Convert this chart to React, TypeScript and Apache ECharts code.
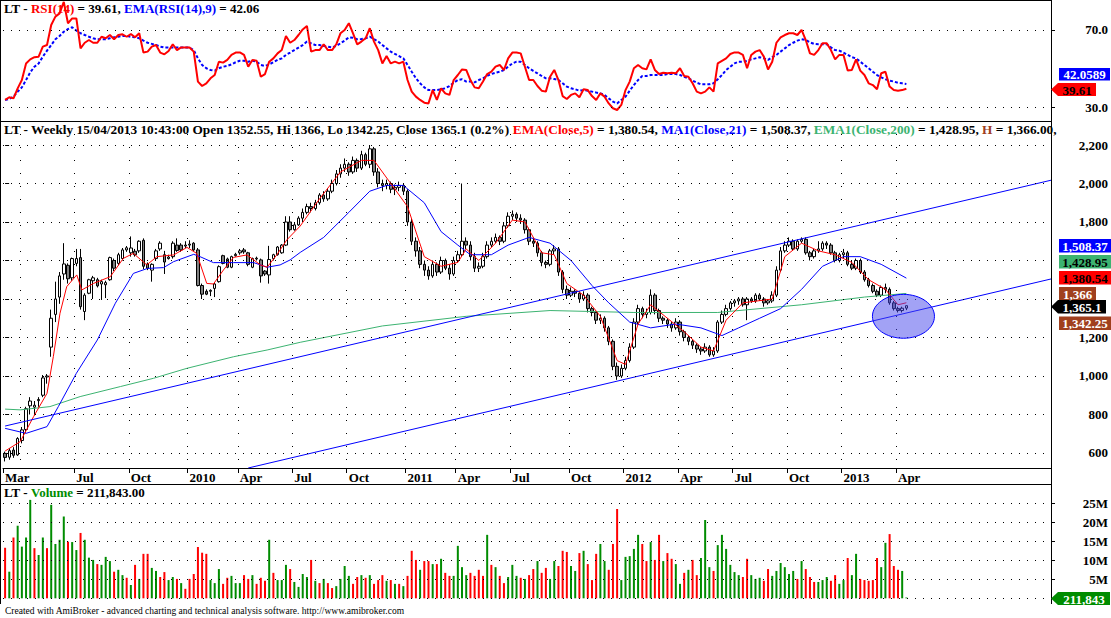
import React, { useEffect, useRef } from "react";
import * as echarts from "echarts";

const SLOTS = 250;
const FONT = '"Liberation Serif", "Times New Roman", serif';

// weekly candles [open, close, low, high]
const ohlc: number[][] = [
  [598,577,556,607],[578,612,565,625],[615,588,575,630],[590,675,585,682],[665,720,650,735],
  [722,830,705,840],[845,870,800,890],[838,848,795,870],[872,878,840,890],[900,990,890,1005],
  [995,1000,960,1010],[1150,1300,1100,1345],[1320,1400,1280,1490],[1410,1520,1375,1540],[1530,1582,1500,1690],
  [1575,1505,1480,1585],[1510,1610,1495,1615],[1585,1610,1570,1660],[1615,1360,1345,1660],[1335,1420,1290,1430],
  [1430,1500,1425,1505],[1495,1510,1400,1520],[1500,1468,1460,1510],[1478,1490,1395,1500],[1474,1485,1405,1495],
  [1500,1615,1495,1620],[1600,1560,1545,1610],[1585,1630,1575,1640],[1610,1655,1600,1665],[1655,1666,1645,1675],
  [1640,1665,1620,1725],[1648,1630,1620,1660],[1650,1700,1640,1705],[1705,1570,1555,1715],[1582,1560,1550,1590],
  [1550,1580,1490,1585],[1610,1650,1600,1660],[1660,1690,1650,1700],[1630,1592,1530,1650],[1610,1618,1605,1630],
  [1620,1690,1610,1700],[1680,1652,1645,1715],[1680,1655,1645,1690],[1675,1680,1665,1700],[1680,1685,1665,1705],
  [1690,1655,1650,1695],[1655,1470,1465,1665],[1470,1425,1400,1480],[1440,1425,1420,1450],[1440,1445,1415,1450],
  [1455,1478,1410,1485],[1490,1568,1485,1575],[1625,1585,1580,1630],[1608,1565,1560,1615],[1565,1620,1560,1625],
  [1625,1632,1620,1640],[1640,1650,1630,1660],[1655,1645,1635,1665],[1640,1580,1570,1645],[1565,1610,1560,1615],
  [1608,1612,1600,1620],[1603,1520,1485,1610],[1545,1530,1520,1550],[1525,1605,1480,1676],[1610,1630,1600,1635],
  [1630,1670,1625,1675],[1640,1680,1635,1685],[1680,1800,1675,1830],[1800,1760,1750,1830],[1760,1785,1755,1800],
  [1785,1820,1780,1830],[1820,1850,1800,1870],[1850,1880,1840,1895],[1880,1870,1850,1900],[1870,1900,1860,1915],
  [1900,1940,1890,1950],[1940,1920,1905,1960],[1920,1960,1910,1975],[1960,2000,1950,2020],[2000,2050,1990,2070],
  [2050,2080,2030,2100],[2080,2100,2060,2130],[2100,2060,2040,2110],[2060,2120,2050,2140],[2120,2080,2060,2130],
  [2080,2150,2070,2170],[2150,2100,2090,2160],[2100,2180,2080,2200],[2180,2060,2040,2190],[2060,2000,1980,2080],
  [2000,1990,1960,2020],[1990,2000,1970,2020],[2000,1970,1950,2010],[1970,1980,1940,1995],[1980,1990,1960,2010],
  [1990,1960,1940,2000],[1960,1800,1780,1970],[1800,1700,1680,1820],[1700,1650,1620,1720],[1650,1580,1560,1670],
  [1580,1550,1520,1600],[1550,1520,1500,1570],[1520,1580,1510,1600],[1580,1540,1520,1590],[1540,1600,1530,1620],
  [1600,1560,1550,1610],[1560,1530,1500,1580],[1530,1600,1520,1620],[1600,1630,1590,1650],[1630,1700,1620,2000],
  [1700,1680,1660,1720],[1680,1620,1600,1700],[1620,1560,1540,1640],[1560,1570,1540,1590],[1570,1620,1560,1640],
  [1620,1680,1610,1700],[1680,1700,1670,1720],[1700,1720,1690,1740],[1720,1700,1680,1730],[1700,1780,1690,1800],
  [1780,1830,1770,1850],[1830,1840,1810,1860],[1840,1820,1800,1850],[1820,1810,1790,1840],[1810,1760,1740,1820],
  [1760,1700,1680,1770],[1700,1690,1670,1720],[1690,1640,1620,1700],[1640,1590,1570,1650],[1590,1580,1560,1600],
  [1580,1650,1570,1660],[1650,1660,1630,1680],[1660,1540,1520,1670],[1540,1450,1430,1550],[1450,1420,1400,1470],
  [1420,1440,1410,1460],[1440,1430,1410,1450],[1430,1400,1380,1440],[1400,1420,1390,1440],[1420,1350,1330,1430],
  [1350,1330,1310,1360],[1330,1290,1270,1340],[1290,1300,1270,1320],[1300,1250,1230,1310],[1250,1180,1160,1260],
  [1180,1050,1030,1190],[1050,1000,980,1070],[1000,1040,990,1060],[1040,1080,1030,1100],[1080,1150,1070,1170],
  [1150,1280,1140,1300],[1280,1350,1270,1370],[1350,1320,1300,1360],[1320,1330,1300,1350],[1330,1420,1320,1450],
  [1420,1340,1320,1430],[1340,1300,1280,1350],[1300,1290,1270,1310],[1290,1270,1250,1300],[1270,1250,1230,1280],
  [1250,1280,1240,1300],[1280,1230,1210,1290],[1230,1200,1180,1240],[1200,1180,1160,1210],[1180,1160,1140,1190],
  [1160,1140,1120,1170],[1140,1130,1110,1150],[1130,1150,1120,1170],[1150,1110,1100,1160],[1110,1130,1100,1150],
  [1130,1280,1120,1290],[1280,1320,1270,1340],[1320,1350,1310,1370],[1350,1380,1340,1390],[1380,1390,1360,1400],
  [1390,1400,1370,1410],[1400,1370,1360,1410],[1370,1400,1290,1410],[1400,1390,1380,1410],[1390,1420,1380,1430],
  [1420,1400,1390,1430],[1400,1380,1360,1410],[1380,1390,1370,1400],[1390,1420,1380,1440],[1420,1550,1410,1570],
  [1550,1650,1540,1670],[1650,1680,1640,1700],[1680,1700,1670,1720],[1700,1660,1650,1710],[1660,1700,1650,1710],
  [1700,1710,1690,1720],[1710,1640,1630,1720],[1640,1620,1600,1650],[1620,1650,1610,1660],[1650,1660,1640,1700],
  [1660,1690,1650,1700],[1690,1680,1660,1700],[1680,1640,1630,1690],[1640,1600,1590,1650],[1600,1630,1590,1640],
  [1630,1640,1610,1660],[1640,1580,1570,1650],[1580,1560,1550,1600],[1560,1600,1550,1610],[1600,1540,1530,1610],
  [1540,1500,1490,1550],[1500,1470,1460,1510],[1470,1440,1430,1480],[1440,1420,1410,1450],[1420,1460,1410,1470],
  [1460,1450,1430,1480],[1450,1380,1370,1460],[1380,1350,1340,1390],[1350,1340,1330,1360],[1340,1352,1330,1360],
  [1352.55,1365.1,1342.25,1366]
];

// weekly volume in millions and colour flag (1 = green, 0 = red)
const volumeM: number[] = [
  13.3,7.0,16.0,19.1,13.6,16.0,25.9,13.2,11.4,16.0,13.2,24.6,14.3,15.4,21.5,14.9,14.8,12.7,17.2,15.4,
  10.7,10.1,9.0,8.8,10.9,9.8,7.0,7.5,6.1,5.4,3.5,8.8,5.1,11.7,11.7,8.0,7.2,5.6,6.9,4.8,
  5.6,5.1,4.0,2.5,5.1,6.4,13.5,12.0,11.7,4.8,4.0,7.7,3.8,5.4,5.9,4.0,4.0,6.1,5.1,6.1,
  3.8,5.4,4.6,15.4,6.7,4.8,4.8,8.8,7.7,4.3,3.0,6.4,5.6,10.1,4.6,4.0,5.1,4.0,2.7,3.2,
  5.1,8.5,5.9,3.8,5.6,6.1,5.4,6.1,3.8,4.8,6.1,4.6,4.8,3.8,3.8,3.2,5.9,12.5,10.1,7.5,
  9.8,9.8,9.0,9.0,10.4,6.7,5.9,5.9,13.8,8.2,6.1,6.7,5.9,7.5,5.9,16.7,8.8,8.2,5.9,4.0,
  5.6,8.8,5.9,5.4,5.1,6.1,7.7,9.8,6.7,8.0,5.1,9.8,8.5,12.5,12.2,8.5,7.2,11.9,12.5,9.0,
  4.8,11.7,14.3,9.8,7.5,14.3,23.5,4.8,10.9,11.1,13.0,16.7,14.3,9.8,14.8,10.1,16.7,9.8,11.9,10.4,
  9.0,3.8,6.7,7.5,10.1,6.1,10.6,20.6,8.2,7.2,14.0,16.7,13.0,8.8,6.9,6.1,5.6,10.4,6.1,5.1,
  5.4,4.6,7.7,5.9,7.2,9.3,8.2,6.4,7.2,5.1,9.8,7.7,5.6,4.3,4.3,4.8,5.6,4.6,6.1,3.8,
  4.8,10.6,6.1,11.7,5.1,4.8,4.6,4.8,10.6,8.2,14.6,16.9,8.5,7.5,7.2,0.211843
];
const volumeUp: number[] = [
  0,1,0,1,1,1,1,0,1,1,0,1,1,1,1,0,1,1,0,1,
  1,1,0,1,1,1,0,1,1,0,1,0,1,0,0,1,1,0,0,1,
  1,0,1,0,0,0,0,0,0,1,1,1,0,0,1,1,1,0,0,1,
  0,0,0,1,0,1,1,1,0,1,1,1,1,0,1,0,1,0,0,1,
  1,1,1,0,0,1,0,1,0,0,0,1,0,1,0,1,0,0,0,1,
  0,0,1,0,1,0,0,1,1,1,1,0,0,0,0,1,0,1,0,0,
  1,1,1,0,1,0,0,1,0,0,1,1,0,0,0,1,1,0,1,0,
  0,0,1,1,0,0,0,1,1,1,1,1,0,0,1,0,0,1,0,0,
  1,1,0,1,0,0,1,1,1,0,1,1,1,1,1,1,0,0,1,1,
  1,0,0,1,1,1,1,1,1,0,1,0,0,0,1,1,1,0,0,1,
  1,0,1,1,0,0,0,0,0,1,1,0,0,0,1,1
];

const rsi14: number[] = [
  33.8,35.2,34.6,39.8,44.1,52.7,54.8,55.9,56.2,61.4,62.2,72.6,76.9,78.6,84.5,73.5,76,76,60.5,63.4,
  64.8,63.4,63.4,66.5,65.7,67.4,65.2,67.4,67.8,66.5,67.9,66.2,68.3,58.3,58.8,61.4,62.2,58.3,57.4,59.1,
  62.6,59.6,61.0,60.9,60.9,58.8,43.3,41.0,42.4,45.0,46.7,53.6,53.1,54.5,57.1,58.3,58.4,57.1,51.0,54.5,
  54.1,45.8,47.2,53.6,55.3,57.9,59.6,66.9,63.4,64.8,67.4,70.3,72.1,58.8,59.6,59.6,62.6,59.6,59.6,62.6,
  68.3,70,73.5,68.3,62.6,64,65.7,70.9,64,59.6,52.7,56.5,52.7,53.6,52.7,53.6,44.1,38.1,35.5,33.8,
  32.4,32,38.9,33.8,39.8,37.2,36.4,44.1,46.7,49.6,49.3,44.1,40.3,39.8,43.3,47.2,48.4,51.0,51.9,49.3,
  55.3,58.3,58.4,57.9,51.0,44.1,44.1,41.0,38.6,38.1,45.8,49.3,44.1,35.8,34.3,36.4,37.2,35.2,39.3,38.9,
  35.8,33.8,37.2,35.5,32.0,29.5,28.6,31.2,38.9,43.3,50.2,51.9,50.2,49.6,54.8,49.3,47.2,47.9,47.6,47.9,
  47.6,50.2,46.2,45.8,42.4,38.1,37.2,38.1,40.3,38.1,52.7,54.0,55.3,57.6,58.4,58.3,57.1,50.2,57.1,58.8,
  59.6,56.2,49.6,53.6,63.4,66.2,67.4,68.3,68.3,67.4,70,64.8,57.9,57.1,59.6,63.1,63.1,59.6,54.8,57.1,
  57.1,49.0,49.3,54.8,49.0,46.7,42.4,41.5,39.3,47.6,48.4,40.7,38.9,38.6,38.9,39.61
];
const rsiEma9: number[] = [
  33.8,34.3,35.5,38.1,40.3,44.1,48.1,51.0,52.7,56.2,59.3,62.2,65.2,66.9,69.1,70.5,71.4,69.7,68.3,67.4,
  66.5,65.7,65.2,65.2,65.2,65.7,66.2,66.5,66.9,66.9,66.5,66.2,65.7,64.5,63.4,62.8,62.2,61.4,60.9,60.9,
  60.9,60.9,60.9,60.9,60.9,59.6,55.3,51.9,50.2,49.3,49.0,50.2,51.0,51.4,52.2,53.3,54.1,54.1,53.6,54.1,
  53.6,51.9,51.4,52.2,53.3,54.5,55.3,57.1,58.3,59.6,60.9,62.2,64.0,63.1,62.2,62.2,61.7,61.4,61.0,61.7,
  63.1,64.5,66.2,66.0,65.2,65.3,65.7,66.5,65.3,64.0,62.2,60.5,58.8,57.6,56.5,55.3,51.9,48.4,45.0,42.4,
  40.3,38.9,38.9,38.9,39.3,39.8,41.0,42.7,44.1,44.5,43.3,43.3,42.9,44.1,45.0,46.2,47.2,47.9,48.4,49.3,
  51.0,52.7,53.6,53.6,51.9,50.2,48.8,47.6,46.2,45.0,45.0,44.6,44.1,42.4,40.7,39.8,39.3,38.6,38.9,38.6,
  38.1,37.6,37.2,36.4,34.6,32.9,32.0,33.8,35.5,38.6,41.5,44.1,46.2,46.2,46.7,46.7,46.7,46.7,47.2,47.2,
  47.2,46.7,45.8,45.0,43.8,42.7,41.9,41.9,41.9,42.4,44.5,46.7,49.3,51.0,52.7,53.6,53.6,54.0,54.8,55.3,
  55.9,55.3,54.5,55.9,57.1,58.8,60.5,62.2,63.4,64.5,65.2,64.8,63.6,62.8,62.6,62.6,62.6,61.0,59.6,59.3,
  58.3,57.1,55.9,55.3,53.6,51.9,50.2,48.4,46.7,45.5,44.5,43.8,43.3,42.7,42.4,42.06
];

// indicator lines read at points along the curve: [bar index, value]
const ema5Knots: number[][] = [
  [0,610],[3.6,659],[6.8,789],[10,910],[11.5,1100],[13.1,1326],[14.7,1464],[17.1,1525],[18.3,1447],[21.1,1481],
  [25.1,1516],[28.2,1611],[30.6,1637],[33.8,1577],[36.2,1620],[40.2,1629],[43.4,1668],[45.7,1637],[48.1,1481],[49.7,1478],
  [52.1,1551],[54.5,1616],[57.7,1629],[60.9,1577],[62.5,1565],[64.8,1629],[67.2,1707],[70.4,1779],[75,1920],[80,2060],
  [85,2120],[88,2120],[92,2000],[96,1880],[100,1620],[104,1570],[108,1590],[110,1660],[113,1600],[117,1690],
  [121,1810],[124,1800],[128,1640],[131,1630],[134,1480],[138,1420],[142,1310],[146,1080],[148,1060],[151,1270],
  [154,1370],[158,1300],[162,1230],[166,1150],[169,1130],[172,1290],[176,1380],[183,1400],[186,1620],[190,1690],
  [194,1650],[198,1630],[202,1590],[206,1500],[210,1450],[213,1370],[215,1380.54]
];
const ma21Knots: number[][] = [
  [0,728],[5,702],[10,737],[12.7,841],[17,1014],[22,1187],[26.3,1378],[30.6,1533],[34,1559],[37.8,1563],
  [40.2,1594],[45,1632],[46.5,1620],[49.7,1589],[54.5,1589],[59.3,1589],[62.5,1565],[65.6,1577],[68,1603],[70.4,1642],
  [76,1720],[82,1850],[87,1960],[91,1990],[95,1990],[100,1900],[104,1750],[108,1680],[111,1630],[116,1630],
  [120,1680],[125,1720],[130,1690],[135,1600],[140,1470],[144,1380],[149,1280],[154,1250],[160,1270],[166,1250],
  [171,1210],[175,1250],[180,1300],[185,1350],[190,1450],[195,1570],[200,1620],[204,1620],[209,1580],[215,1508.37]
];
const ema200Knots: number[][] = [
  [0,828],[3.6,824],[10.7,841],[17.9,893],[27.5,945],[35.4,988],[43.4,1040],[54.5,1100],[62.5,1135],[70.4,1175],
  [90,1260],[110,1310],[130,1340],[150,1330],[170,1330],[190,1370],[205,1410],[215,1428.95]
];
const upperChannel: number[][] = [[0, 740], [249.5, 2017]];
const lowerChannel: number[][] = [[58, 522], [249.5, 1504]];
// ellipse: centre bar index, centre price, x radius (bars), y radius (price)
const ellipseMark: number[][] = [[214.3, 1310, 7.4, 114]];

const monthTicks: [number, string][] = [
  [0,"Mar"],[17,"Jul"],[30,"Oct"],[44,"2010"],[56,"Apr"],[69,"Jul"],[82,"Oct"],[96,"2011"],[108,"Apr"],
  [121,"Jul"],[135,"Oct"],[148,"2012"],[161,"Apr"],[174,"Jul"],[187,"Oct"],[200,"2013"],[213,"Apr"]
];
const gridColumns: number[] = [4,17,30,44,56,69,82,96,108,121,135,148,161,174,187,200,213];
const priceTicks: number[] = [600,800,1000,1200,1400,1600,1800,2000,2200];
// the 1,400 and 1,600 labels sit behind the value boxes in the reference
const priceLabels: number[] = [600,800,1000,1200,1800,2000,2200];
const volumeTicks: number[] = [5,10,15,20,25];
const volumeGrid: number[] = [0,5,10,15,20,25];
const rsiTicks: number[] = [30,70];

const categories = Array.from({ length: SLOTS }, (_, i) => String(i));
const tickMap = new Map(monthTicks.map(([i, l]) => [i, l]));
const colSet = new Set(gridColumns);

const dotted = { color: "#000", width: 1, type: [1, 7] as any };

function hLines(values: number[]) {
  return {
    silent: true,
    symbol: "none",
    label: { show: false },
    lineStyle: dotted,
    data: values.map((v) => ({ yAxis: v })),
    animation: false,
  };
}

function box(x1: number, y1: number, x2: number, y2: number, bg: string, fg: string, text: string, arrow = false) {
  const ym = (y1 + y2) / 2;
  const shape = arrow
    ? { type: "polygon", shape: { points: [[1051, ym], [1058, y1], [x2, y1], [x2, y2], [1058, y2]] }, style: { fill: bg } }
    : { type: "rect", shape: { x: x1, y: y1, width: x2 - x1, height: y2 - y1 }, style: { fill: bg } };
  return [
    { ...shape, z: 100 },
    {
      type: "text",
      z: 101,
      style: { text, x: arrow ? (1058 + x2) / 2 : (x1 + x2) / 2, y: ym + 0.5, align: "center", verticalAlign: "middle", fill: fg, font: `bold 13px ${FONT}` },
    },
  ];
}

function line(x1: number, y1: number, x2: number, y2: number) {
  return { type: "line", z: 90, shape: { x1, y1, x2, y2 }, style: { stroke: "#000", lineWidth: 1 } };
}

export default function App() {
  const ref = useRef<HTMLDivElement>(null);
  useEffect(() => {
    if (!ref.current) return;
    const chart = echarts.init(ref.current, undefined, { renderer: "svg" });
    const axisLabelBase = { color: "#000", fontFamily: FONT, fontWeight: "bold" as const, fontSize: 13 };
    const yBase = {
      position: "right" as const,
      axisLine: { show: false },
      axisTick: { show: true, length: 4, lineStyle: { color: "#000" } },
      splitLine: { show: false },
    };
    const option: any = {
      animation: false,
      backgroundColor: "#fff",
      grid: [
        { left: 3, right: 60, top: 1, height: 120 },
        { left: 3, right: 60, top: 121, height: 347 },
        { left: 3, right: 60, top: 484, height: 120 },
      ],
      xAxis: [
        { type: "category", gridIndex: 0, data: categories, boundaryGap: true, show: false },
        {
          type: "category",
          gridIndex: 1,
          data: categories,
          boundaryGap: true,
          axisLine: { show: true, lineStyle: { color: "#000" } },
          axisTick: { show: true, length: 5, interval: (i: number) => tickMap.has(i), lineStyle: { color: "#000" } },
          axisLabel: {
            ...axisLabelBase,
            interval: (i: number) => tickMap.has(i),
            formatter: (_v: string, i: number) => tickMap.get(i) ?? "",
            align: "left",
            margin: 3,
          },
          splitLine: { show: true, interval: (i: number) => colSet.has(i), lineStyle: { color: "#000", width: 1, type: [1, 12] } },
        },
        { type: "value", gridIndex: 1, min: -0.5, max: SLOTS - 0.5, show: false },
        { type: "category", gridIndex: 2, data: categories, boundaryGap: true, show: false },
      ],
      yAxis: [
        {
          ...yBase,
          gridIndex: 0,
          min: 22.9,
          max: 85.0,
          axisTick: { ...yBase.axisTick, customValues: rsiTicks },
          axisLabel: { ...axisLabelBase, customValues: rsiTicks, align: "right", margin: 57, formatter: (v: number) => v.toFixed(1) },
        },
        {
          ...yBase,
          gridIndex: 1,
          min: 522,
          max: 2324.7,
          axisTick: { ...yBase.axisTick, customValues: priceTicks },
          axisLabel: { ...axisLabelBase, customValues: priceLabels, align: "right", margin: 57, formatter: (v: number) => v.toLocaleString("en-US") },
        },
        {
          ...yBase,
          gridIndex: 2,
          min: -1.5,
          max: 30.08,
          axisTick: { ...yBase.axisTick, customValues: volumeTicks },
          axisLabel: { ...axisLabelBase, customValues: volumeTicks, align: "right", margin: 57, formatter: (v: number) => `${v}M` },
        },
      ],
      series: [
        {
          type: "line",
          xAxisIndex: 0,
          yAxisIndex: 0,
          data: rsiEma9,
          showSymbol: false,
          lineStyle: { color: "#0000ff", width: 2, type: [3, 2] },
          markLine: hLines(rsiTicks),
          z: 3,
        },
        {
          type: "line",
          xAxisIndex: 0,
          yAxisIndex: 0,
          data: rsi14,
          showSymbol: false,
          lineStyle: { color: "#ff0000", width: 2 },
          z: 4,
        },
        {
          type: "candlestick",
          xAxisIndex: 1,
          yAxisIndex: 1,
          data: ohlc,
          barWidth: 3,
          itemStyle: { color: "#ffffff", color0: "#808080", borderColor: "#000", borderColor0: "#000", borderWidth: 1 },
          markLine: hLines(priceTicks),
          z: 3,
        },
        {
          type: "line", xAxisIndex: 2, yAxisIndex: 1, data: ema200Knots, showSymbol: false,
          lineStyle: { color: "#3cb371", width: 1 }, z: 4,
        },
        {
          type: "line", xAxisIndex: 2, yAxisIndex: 1, data: ma21Knots, showSymbol: false,
          lineStyle: { color: "#0000ff", width: 1 }, z: 4,
        },
        {
          type: "line", xAxisIndex: 2, yAxisIndex: 1, data: ema5Knots, showSymbol: false,
          lineStyle: { color: "#ff0000", width: 1 }, z: 4,
        },
        {
          type: "line", xAxisIndex: 2, yAxisIndex: 1, data: upperChannel, showSymbol: false,
          lineStyle: { color: "#0000ff", width: 1 }, z: 4,
        },
        {
          type: "line", xAxisIndex: 2, yAxisIndex: 1, data: lowerChannel, showSymbol: false,
          lineStyle: { color: "#0000ff", width: 1 }, z: 4,
        },
        {
          type: "custom",
          xAxisIndex: 2,
          yAxisIndex: 1,
          data: ellipseMark,
          encode: { x: 0, y: 1 },
          z: 5,
          renderItem: (_p: any, api: any) => {
            const c = api.coord([api.value(0), api.value(1)]);
            const e = api.coord([api.value(0) + api.value(2), api.value(1) + api.value(3)]);
            return {
              type: "ellipse",
              shape: { cx: c[0], cy: c[1], rx: Math.abs(e[0] - c[0]), ry: Math.abs(e[1] - c[1]) },
              style: { fill: "rgba(70,70,235,0.5)", stroke: "#0000ff", lineWidth: 1 },
            };
          },
        },
        {
          type: "bar",
          xAxisIndex: 3,
          yAxisIndex: 2,
          barWidth: 2,
          data: volumeM.map((v, i) => ({ value: v, itemStyle: { color: volumeUp[i] ? "#008c00" : "#ff0000" } })),
          markLine: hLines(volumeGrid),
          z: 3,
        },
      ],
      graphic: [
        line(0, 0.5, 1051, 0.5),
        line(0.5, 0, 0.5, 604),
        line(0, 121.5, 1051, 121.5),
        line(0, 484.5, 1051, 484.5),
        line(1051.5, 0, 1051.5, 604),
        {
          type: "text", z: 95, left: 4, top: 2,
          style: {
            text: "{k|LT - }{r|RSI(14)}{k| = 39.61, }{b|EMA(RSI(14),9)}{k| = 42.06}",
            font: `bold 13px ${FONT}`,
            rich: {
              k: { fill: "#000", font: `bold 13px ${FONT}` },
              r: { fill: "#ff0000", font: `bold 13px ${FONT}` },
              b: { fill: "#0000ff", font: `bold 13px ${FONT}` },
            },
          },
        },
        {
          type: "text", z: 95, left: 4, top: 123,
          style: {
            text:
              "{k|LT - Weekly 15/04/2013 10:43:00 Open 1352.55, Hi 1366, Lo 1342.25, Close 1365.1 (0.2%) }{r|EMA(Close,5)}{k| = 1,380.54, }{b|MA1(Close,21)}{k| = 1,508.37, }{g|EMA1(Close,200)}{k| = 1,428.95, }{h|H}{k| = 1,366.00,}",
            font: `bold 13.3px ${FONT}`,
            rich: {
              k: { fill: "#000", font: `bold 13.3px ${FONT}` },
              r: { fill: "#ff0000", font: `bold 13.3px ${FONT}` },
              b: { fill: "#0000ff", font: `bold 13.3px ${FONT}` },
              g: { fill: "#3cb371", font: `bold 13.3px ${FONT}` },
              h: { fill: "#a0401e", font: `bold 13.3px ${FONT}` },
            },
          },
        },
        {
          type: "text", z: 95, left: 4, top: 486,
          style: {
            text: "{k|LT - }{g|Volume}{k| = 211,843.00}",
            font: `bold 13px ${FONT}`,
            rich: {
              k: { fill: "#000", font: `bold 13px ${FONT}` },
              g: { fill: "#008c00", font: `bold 13px ${FONT}` },
            },
          },
        },
        {
          type: "text", z: 95, left: 5, top: 606,
          style: {
            text: "Created with AmiBroker - advanced charting and technical analysis software. http://www.amibroker.com",
            fill: "#000",
            font: `9.5px ${FONT}`,
          },
        },
        ...box(1059, 68, 1110, 80.5, "#0000ff", "#fff", "42.0589"),
        ...box(1051, 83, 1096, 96, "#ff0000", "#000", "39.61", true),
        ...box(1059, 239, 1111, 252.5, "#0000ff", "#fff", "1,508.37"),
        ...box(1059, 255, 1111, 268.5, "#3cb371", "#000", "1,428.95"),
        ...box(1059, 271, 1111, 284.5, "#ff0000", "#000", "1,380.54"),
        ...box(1059, 287, 1096, 300, "#a0401e", "#fff", "1,366"),
        ...box(1051, 300, 1106, 313.5, "#000000", "#fff", "1,365.1", true),
        ...box(1059, 316.5, 1111, 330, "#a0401e", "#fff", "1,342.25"),
        ...box(1051, 592, 1110, 605, "#008c00", "#fff", "211,843", true),
      ],
    };
    chart.setOption(option);
    return () => chart.dispose();
  }, []);
  return (
    <div
      ref={ref}
      style={{ position: "fixed", left: 0, top: 0, width: 1111, height: 618, background: "#fff" }}
    />
  );
}
